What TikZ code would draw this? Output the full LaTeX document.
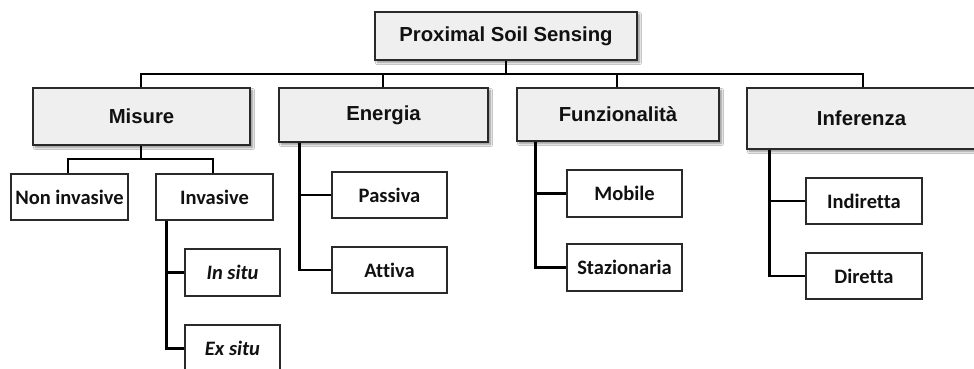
\documentclass[tikz,border=0pt]{standalone}
\usepackage{fontspec}
\setmainfont{Liberation Sans}
\newfontfamily\subfont[Ligatures={NoCommon}]{Carlito}
\usetikzlibrary{shadows.blur}

\definecolor{boxfill}{HTML}{EFEFEF}
\definecolor{boxline}{HTML}{2A2A2A}
\definecolor{ink}{HTML}{111111}

\tikzset{
  mainbox/.style={draw=boxline, line width=1.4pt, fill=boxfill, inner sep=0pt,
    text=ink, font=\fontsize{20.3}{23}\selectfont\bfseries,
    blur shadow={shadow xshift=2.5pt, shadow yshift=-2.5pt, shadow blur steps=6, shadow opacity=45}},
  subbox/.style={draw=boxline, line width=1.3pt, fill=white, inner sep=0pt,
    minimum width=116pt, minimum height=46pt,
    text=ink, font=\subfont\fontsize{20.5}{23}\selectfont\bfseries},
  link/.style={draw=black, line width=2.7pt, line join=miter}
}

\begin{document}
\begin{tikzpicture}[x=1pt, y=-1pt]
  \useasboundingbox[fill=white] (0,0) rectangle (974,368);

  % root and first level
  \node[mainbox, minimum width=262pt, minimum height=48pt] (root) at (506,36) {Proximal Soil Sensing};
  \node[mainbox, minimum width=217pt, minimum height=57pt] (misure) at (141.5,116.5) {Misure};
  \node[mainbox, minimum width=209pt, minimum height=54pt] (energia) at (383.5,115) {Energia};
  \node[mainbox, minimum width=202pt, minimum height=53pt] (funz) at (618,114.5) {Funzionalità};
  \node[mainbox, minimum width=229pt, minimum height=61pt] (inferenza) at (861.5,118.5) {Inferenza};

  % second level
  \node[subbox, minimum width=117pt] (noninv) at (69.5,197) {Non invasive};
  \node[subbox, minimum width=117pt] (inv) at (214.5,197) {Invasive};
  \node[subbox, minimum width=95pt, minimum height=47pt] (insitu) at (232.5,272.5) {\itshape In situ};
  \node[subbox, minimum width=95pt, minimum height=47pt] (exsitu) at (232.5,348.5) {\itshape Ex situ};
  \node[subbox, minimum width=115pt] (passiva) at (389.5,195) {Passiva};
  \node[subbox, minimum width=115pt] (attiva) at (389.5,270) {Attiva};
  \node[subbox, minimum width=115pt, minimum height=47pt] (mobile) at (624.5,193.5) {Mobile};
  \node[subbox, minimum width=115pt, minimum height=47pt] (staz) at (624.5,267.5) {Stazionaria};
  \node[subbox, minimum width=116pt] (indiretta) at (864,201) {Indiretta};
  \node[subbox, minimum width=116pt] (diretta) at (864,276) {Diretta};

  % root connectors
  \coordinate (bar) at (506,74);
  \draw[link] (root.south) -- (bar)
    ([xshift=-0.5pt]misure.north) |- (bar) -| ([xshift=1.5pt]inferenza.north)
    ([xshift=-0.5pt]energia.north) -- ++(0,-14)
    ([xshift=-1pt]funz.north) -- ++(0,-14);

  % Misure branch
  \coordinate (mbar) at (141,159);
  \draw[link] ([xshift=-0.5pt]misure.south) -- (mbar)
    ([xshift=-1.5pt]noninv.north) |- (mbar) -| ([xshift=-1.5pt]inv.north);

  % Invasive branch
  \draw[link] (exsitu.west) -| ([xshift=11pt]inv.south west)
    (insitu.west) -- ++(-18,0);

  % Energia branch
  \draw[link] (attiva.west) -| ([xshift=21pt]energia.south west)
    (passiva.west) -- ++(-32,0);

  % Funzionalita branch
  \draw[link] (staz.west) -| ([xshift=19pt]funz.south west)
    (mobile.west) -- ++(-31,0);

  % Inferenza branch
  \draw[link] (diretta.west) -| ([xshift=23pt]inferenza.south west)
    (indiretta.west) -- ++(-36,0);
\end{tikzpicture}
\end{document}
